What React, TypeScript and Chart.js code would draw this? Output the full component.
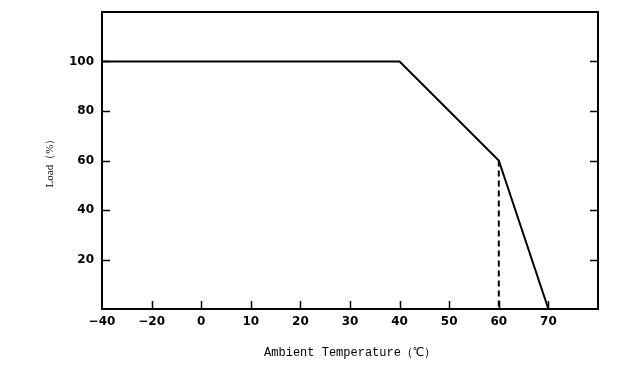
import React, { useEffect, useRef } from "react";
import { Chart, registerables } from "chart.js";

Chart.register(...registerables);

const xLabels = ["−40", "−20", "0", "10", "20", "30", "40", "50", "60", "70", ""];
const curveX = ["−40", "40", "60", "70"];
const curveY = [100, 100, 60, 0];
const dashX = ["60", "60"];
const dashY = [60, 0];
const yTicks = [20, 40, 60, 80, 100];

const frameAndTicks = {
  id: "frameAndTicks",
  afterDraw(chart: any) {
    const ctx = chart.ctx;
    const a = chart.chartArea;
    const xs = chart.scales.x;
    const ys = chart.scales.y;
    ctx.save();
    ctx.strokeStyle = "#000";
    ctx.lineWidth = 2;
    ctx.strokeRect(a.left, a.top, a.right - a.left, a.bottom - a.top);
    ctx.lineWidth = 1.5;
    ctx.beginPath();
    for (let i = 1; i < xLabels.length - 1; i++) {
      const px = Math.round(xs.getPixelForValue(i)) + 0.5;
      ctx.moveTo(px, a.bottom);
      ctx.lineTo(px, a.bottom - 8);
    }
    for (const v of yTicks) {
      const py = Math.round(ys.getPixelForValue(v)) + 0.5;
      ctx.moveTo(a.left, py);
      ctx.lineTo(a.left + 8, py);
      ctx.moveTo(a.right, py);
      ctx.lineTo(a.right - 8, py);
    }
    ctx.stroke();
    ctx.restore();
  },
};

export default function App() {
  const ref = useRef<HTMLCanvasElement | null>(null);
  useEffect(() => {
    if (!ref.current) return;
    const chart = new Chart(ref.current, {
      type: "line",
      data: {
        labels: xLabels,
        datasets: [
          {
            data: curveX.map((x, i) => ({ x, y: curveY[i] })) as any,
            borderColor: "#000",
            borderWidth: 2,
            pointRadius: 0,
            tension: 0,
          },
          {
            data: dashX.map((x, i) => ({ x, y: dashY[i] })) as any,
            borderColor: "#000",
            borderWidth: 2,
            borderDash: [6, 4],
            pointRadius: 0,
            tension: 0,
          },
        ],
      },
      options: {
        animation: false,
        responsive: false,
        devicePixelRatio: 1,
        layout: { padding: { left: 0, right: 39, top: 12, bottom: 0 } },
        plugins: { legend: { display: false }, tooltip: { enabled: false } },
        scales: {
          x: {
            type: "category",
            offset: false,
            grid: { display: false, drawTicks: false },
            border: { display: false },
            ticks: {
              color: "#000",
              padding: 6,
              maxRotation: 0,
              autoSkip: false,
              font: { family: "DejaVu Sans", size: 12, weight: "bold" },
            },
            title: {
              display: true,
              text: "Ambient Temperature（℃）",
              color: "#000",
              padding: { top: 0, bottom: 20 },
              font: { family: "Liberation Mono", size: 12 },
            },
            afterFit(scale: any) {
              scale.height = 71;
              scale.paddingLeft = 0;
              scale.paddingRight = 0;
            },
          },
          y: {
            min: 0,
            max: 120,
            grid: { display: false, drawTicks: false },
            border: { display: false },
            ticks: {
              stepSize: 20,
              color: "#000",
              padding: 8,
              callback: (v: any) => (yTicks.includes(v) ? String(v) : ""),
              font: { family: "DejaVu Sans", size: 12, weight: "bold" },
            },
            title: {
              display: true,
              text: "Load（%）",
              color: "#000",
              padding: { top: 44, bottom: 0 },
              font: { family: "Liberation Serif", size: 11 },
            },
            afterFit(scale: any) {
              scale.width = 102;
              scale.paddingTop = 0;
              scale.paddingBottom = 0;
            },
          },
        },
      },
      plugins: [frameAndTicks],
    });
    return () => chart.destroy();
  }, []);
  return (
    <div style={{ position: "fixed", left: 0, top: 0, width: 637, height: 380, background: "#fff" }}>
      <canvas ref={ref} width={637} height={380} />
    </div>
  );
}
